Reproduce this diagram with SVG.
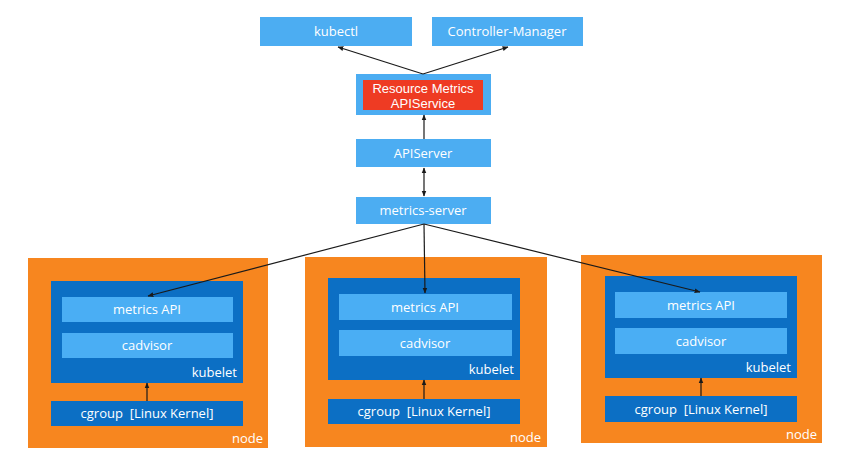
<svg xmlns="http://www.w3.org/2000/svg" width="851" height="454" viewBox="0 0 851 454">
<defs>
<marker id="ah" viewBox="0 0 10 10" refX="9" refY="5" markerWidth="6" markerHeight="6" orient="auto-start-reverse" markerUnits="userSpaceOnUse">
<path d="M0,1 L10,5 L0,9 z" fill="#1a1a1a"/>
</marker>
<style>
.lb{fill:#4cadf2}
.red{fill:#ee3b23}
.or{fill:#f7861f}
.db{fill:#0c6fc4}
.mb{fill:#4aaef4}
text{font-family:"Open Sans","Noto Sans","Liberation Sans",sans-serif;font-size:13px;fill:#ffffff}
.c{text-anchor:middle}
.r{text-anchor:end}
.pre{white-space:pre}
.tt{font-family:"Liberation Sans","Open Sans",sans-serif;font-size:13px}
.ln{stroke:#1a1a1a;stroke-width:1.2;fill:none;marker-end:url(#ah)}
.ln2{stroke:#1a1a1a;stroke-width:1.2;fill:none;marker-start:url(#ah);marker-end:url(#ah)}
</style>
</defs>
<rect width="851" height="454" fill="#ffffff"/>
<g id="kubectl"><rect class="lb" x="260" y="17" width="152" height="29"/><text class="c" x="336" y="36">kubectl</text></g>
<g id="controller-manager"><rect class="lb" x="432" y="17" width="151" height="29"/><text class="c" x="507" y="36">Controller-Manager</text></g>
<g id="apiservice"><rect class="lb" x="356" y="74" width="135" height="41"/><rect class="red" x="363" y="80" width="120" height="30"/><text class="c tt" x="423" y="93">Resource Metrics</text><text class="c tt" x="423" y="108">APIService</text></g>
<g id="apiserver"><rect class="lb" x="356" y="139" width="135" height="28"/><text class="c" x="423" y="158">APIServer</text></g>
<g id="metrics-server"><rect class="lb" x="356" y="197" width="135" height="27"/><text class="c" x="423" y="215">metrics-server</text></g>
<g id="node1">
<rect class="or" x="28" y="258" width="240" height="190"/>
<rect class="db" x="51" y="281" width="192" height="102"/>
<rect class="mb" x="62" y="297" width="171" height="25"/><text class="c" x="147" y="314">metrics API</text>
<rect class="mb" x="62" y="333" width="171" height="25"/><text class="c" x="147" y="350">cadvisor</text>
<text class="r" x="237" y="377">kubelet</text>
<rect class="db" x="51" y="401" width="192" height="25"/><text class="c pre" x="147" y="418" xml:space="preserve">cgroup  [Linux Kernel]</text>
<text class="r" x="263" y="443">node</text>
</g>
<g id="node2">
<rect class="or" x="305" y="257" width="242" height="190"/>
<rect class="db" x="328" y="278" width="192" height="102"/>
<rect class="mb" x="339" y="294" width="173" height="26"/><text class="c" x="425" y="312">metrics API</text>
<rect class="mb" x="339" y="330" width="173" height="26"/><text class="c" x="425" y="348">cadvisor</text>
<text class="r" x="514" y="374">kubelet</text>
<rect class="db" x="328" y="399" width="192" height="25"/><text class="c pre" x="424" y="416" xml:space="preserve">cgroup  [Linux Kernel]</text>
<text class="r" x="541" y="442">node</text>
</g>
<g id="node3">
<rect class="or" x="581" y="255" width="241" height="188"/>
<rect class="db" x="605" y="276" width="192" height="102"/>
<rect class="mb" x="615" y="292" width="172" height="26"/><text class="c" x="701" y="310">metrics API</text>
<rect class="mb" x="615" y="328" width="172" height="26"/><text class="c" x="701" y="346">cadvisor</text>
<text class="r" x="791" y="372">kubelet</text>
<rect class="db" x="605" y="396" width="192" height="26"/><text class="c pre" x="701" y="414" xml:space="preserve">cgroup  [Linux Kernel]</text>
<text class="r" x="817" y="439">node</text>
</g>
<g id="connectors">
<line class="ln" x1="423" y1="74" x2="338" y2="47"/>
<line class="ln" x1="423" y1="74" x2="508" y2="47"/>
<line class="ln" x1="424" y1="139" x2="424" y2="115"/>
<line class="ln2" x1="424" y1="168" x2="424" y2="196"/>
<line class="ln" x1="424" y1="224" x2="148" y2="296"/>
<line class="ln" x1="424" y1="224" x2="425" y2="293"/>
<line class="ln" x1="424" y1="224" x2="700" y2="292"/>
<line class="ln" x1="147" y1="401" x2="147" y2="383"/>
<line class="ln" x1="424" y1="399" x2="424" y2="380"/>
<line class="ln" x1="701" y1="396" x2="701" y2="378"/>
</g>
</svg>
